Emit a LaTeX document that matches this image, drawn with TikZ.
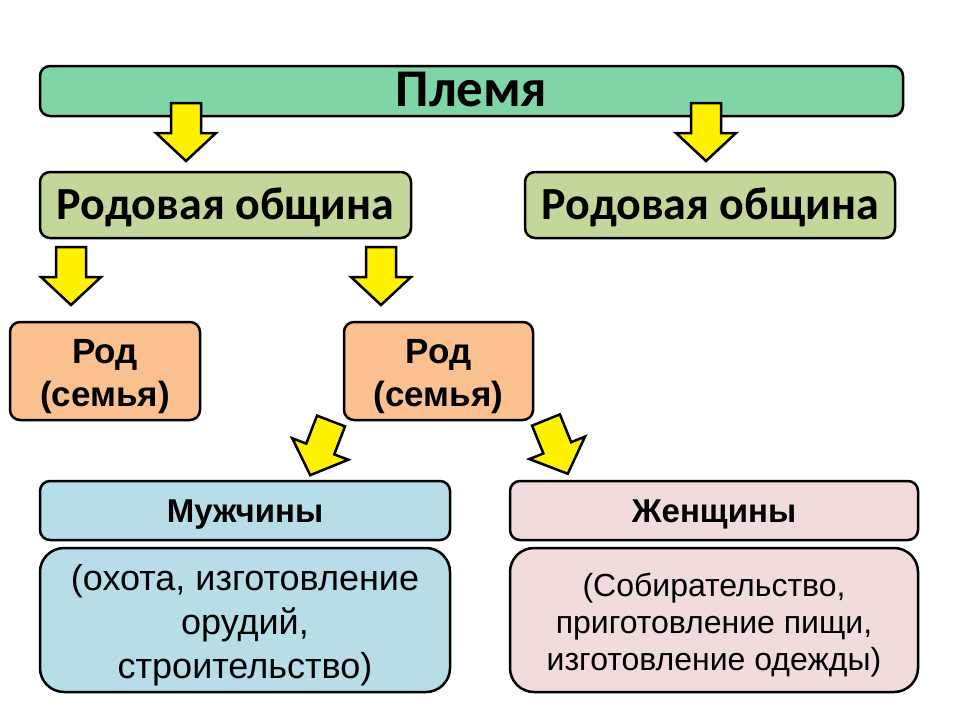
\documentclass[tikz,border=0pt]{standalone}
\usepackage{fontspec}
\setmainfont{Liberation Sans}
\newfontfamily\headfont{Carlito}
\usetikzlibrary{positioning}

\definecolor{tribegreen}{RGB}{127,213,165}
\definecolor{clangreen}{RGB}{196,215,155}
\definecolor{familyorange}{RGB}{250,192,144}
\definecolor{menblue}{RGB}{183,221,232}
\definecolor{womenpink}{RGB}{242,220,219}

% text set a little below the middle of its box
\newcommand\lowtext[2][5pt]{\raisebox{-#1}[\height][\depth]{\begin{tabular}{@{}c@{}}#2\end{tabular}}}

\begin{document}
\begin{tikzpicture}[x=1pt,y=-1pt,
    box/.style={draw, line width=2.5pt, rounded corners=10pt, inner sep=0pt},
    headbox/.style={box, font=\headfont\bfseries},
    workbox/.style={box, rounded corners=24pt, minimum width=410pt, minimum height=144pt},
    fatarrow/.pic={\draw[line width=2.5pt, fill=yellow, line join=miter]
        (-15,0) -- (15,0) -- (15,30) -- (30,30) -- (0,58) -- (-30,30) -- (-15,30) -- cycle;}
  ]
  \useasboundingbox (0,0) rectangle (960,720);

  \node[headbox, fill=tribegreen, minimum width=863pt, minimum height=50pt,
        font=\headfont\bfseries\fontsize{53}{38}\selectfont] (tribe) at (471.5,91) {\lowtext[4pt]{Племя}};

  \node[headbox, fill=clangreen, minimum width=371pt, minimum height=66pt,
        font=\headfont\bfseries\fontsize{46}{50}\selectfont] (clanL) at (225.5,205) {\lowtext[4pt]{Родовая община}};
  \node[headbox, fill=clangreen, minimum width=370pt, minimum height=66pt,
        font=\headfont\bfseries\fontsize{46}{50}\selectfont] (clanR) at (710,205) {\lowtext[4pt]{Родовая община}};

  \node[box, fill=familyorange, minimum width=190pt, minimum height=98pt,
        font=\bfseries\fontsize{35}{43}\selectfont] (famL) at (105,371) {\lowtext{Род\\(семья)}};
  \node[box, fill=familyorange, minimum width=189pt, minimum height=98pt,
        font=\bfseries\fontsize{35}{43}\selectfont] (famM) at (438.5,371) {\lowtext{Род\\(семья)}};

  \node[box, fill=menblue, minimum width=410pt, minimum height=59pt,
        font=\bfseries\fontsize{33}{36}\selectfont] (men) at (245,510.5) {\lowtext{Мужчины}};
  \node[box, fill=womenpink, minimum width=408pt, minimum height=59pt,
        font=\bfseries\fontsize{33}{36}\selectfont] (women) at (714,510.5) {\lowtext{Женщины}};

  \node[workbox, fill=menblue, font=\fontsize{36}{44}\selectfont] (menwork) at (245,620)
    {\lowtext[6pt]{(охота, изготовление\\орудий,\\строительство)}};
  \node[workbox, fill=womenpink, minimum width=408pt, font=\fontsize{32}{37}\selectfont] (womenwork) at (714,620)
    {\lowtext[6pt]{(Собирательство,\\приготовление пищи,\\изготовление одежды)}};

  % arrows
  \pic at (186,103) {fatarrow};
  \pic at (706,103) {fatarrow};
  \pic at (71,247) {fatarrow};
  \pic at (381,247) {fatarrow};
  \pic[rotate=-21] at (331,421) {fatarrow};
  \pic[rotate=22] at (546,420) {fatarrow};
\end{tikzpicture}
\end{document}
